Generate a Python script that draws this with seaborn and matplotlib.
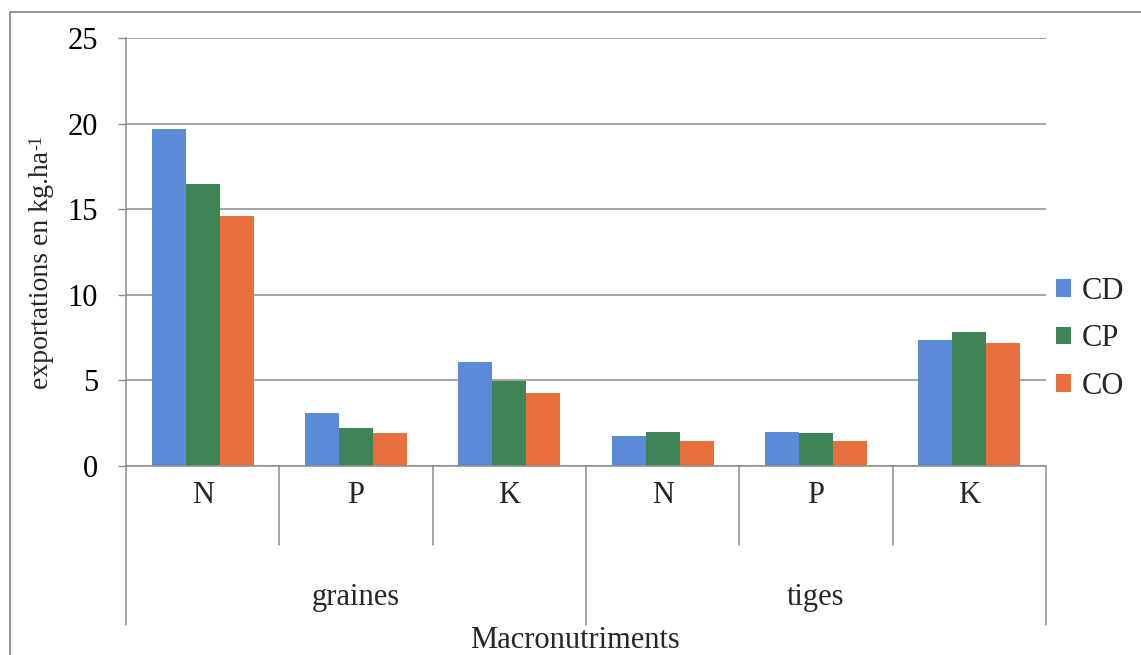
import matplotlib
matplotlib.use("Agg")
import matplotlib.pyplot as plt
import matplotlib.transforms as mtransforms
from matplotlib.lines import Line2D
import pandas as pd
import seaborn as sns

# Exports of macronutrients (kg/ha) by plant part and cropping system
groups = ["graines", "tiges"]
nutrients = ["N", "P", "K"]
series = ["CD", "CP", "CO"]
cd_values = [19.7, 3.1, 6.1, 1.75, 2.0, 7.35]
cp_values = [16.5, 2.2, 4.95, 2.0, 1.9, 7.85]
co_values = [14.6, 1.9, 4.25, 1.45, 1.45, 7.2]
colors = ["#5b8ad8", "#3f8456", "#e8703f"]
yticks = [0, 5, 10, 15, 20, 25]

categories = [f"{g} {n}" for g in groups for n in nutrients]
df = pd.DataFrame({
    "categorie": categories * len(series),
    "serie": [s for s in series for _ in categories],
    "valeur": cd_values + cp_values + co_values,
})

sns.set_theme(style="white")
plt.rcParams["font.family"] = ["Liberation Serif", "DejaVu Serif"]
GRAY = "#8c8c8c"
FS = 22

W, H = 1141, 655
fig = plt.figure(figsize=(W / 100, H / 100), dpi=100)
ax = fig.add_axes([126 / W, 1 - 466 / H, 920 / W, 428 / H])

sns.barplot(data=df, x="categorie", y="valeur", hue="serie",
            order=categories, hue_order=series, palette=colors,
            width=0.664, saturation=1, errorbar=None, linewidth=0, ax=ax)

ax.set_xlim(-0.5, len(categories) - 0.5)
ax.set_ylim(0, 25)
ax.set_yticks(yticks)
ax.set_yticklabels([str(v) for v in yticks], fontsize=FS)
ax.yaxis.grid(True, color=GRAY, linewidth=1.1)
ax.set_axisbelow(True)
ax.tick_params(axis="y", direction="out", length=6, width=1, color=GRAY,
               pad=14, left=True, labelcolor="black")
ax.set_xticks([])
ax.set_xlabel("")
ax.set_ylabel("")
for side in ("top", "right"):
    ax.spines[side].set_visible(False)
for side in ("left", "bottom"):
    ax.spines[side].set_color(GRAY)
    ax.spines[side].set_linewidth(1.1)

trans = mtransforms.blended_transform_factory(ax.transData, ax.transAxes)

# nutrient labels and category separators
for i, cat in enumerate(categories):
    ax.text(i, -0.068, nutrients[i % len(nutrients)], transform=trans,
            ha="center", va="center", fontsize=FS)
for b in range(len(categories) + 1):
    edge = b - 0.5
    long_line = b % len(nutrients) == 0
    ax.plot([edge, edge], [0, -0.3715 if long_line else -0.1846],
            transform=trans, clip_on=False, color=GRAY, linewidth=1.1)

# plant part labels
for g, name in enumerate(groups):
    centre = g * len(nutrients) + (len(nutrients) - 1) / 2
    ax.text(centre, -0.308, name, transform=trans, ha="center",
            va="center", fontsize=FS)

fig.text(575 / W, 1 - 640 / H, "Macronutriments", ha="center",
         va="center", fontsize=FS)

# y-axis title with a superscript "-1" placed after the main text
ylab = fig.text(42 / W, 1 - 270 / H, "exportations en kg.ha",
                rotation=90, ha="center", va="center", fontsize=20)
fig.canvas.draw()
bb = ylab.get_window_extent(renderer=fig.canvas.get_renderer())
fig.text((bb.x0 - 1) / W, (bb.y1 + 1) / H, "-1", rotation=90,
         ha="left", va="bottom", fontsize=13)

leg = ax.legend(loc="center left", bbox_to_anchor=(1.011, 0.297),
                frameon=False, fontsize=FS, handlelength=0.5,
                handleheight=0.5, handletextpad=0.35, labelspacing=0.6,
                borderaxespad=0, borderpad=0, title=None)

# outer frame of the chart area
fig.add_artist(Line2D([10 / W, 1], [1 - 12 / H, 1 - 12 / H],
                      transform=fig.transFigure, color=GRAY, linewidth=1.3))
fig.add_artist(Line2D([10 / W, 10 / W], [0, 1 - 12 / H],
                      transform=fig.transFigure, color=GRAY, linewidth=1.3))

fig.savefig("out.png", dpi=100, facecolor="white")
